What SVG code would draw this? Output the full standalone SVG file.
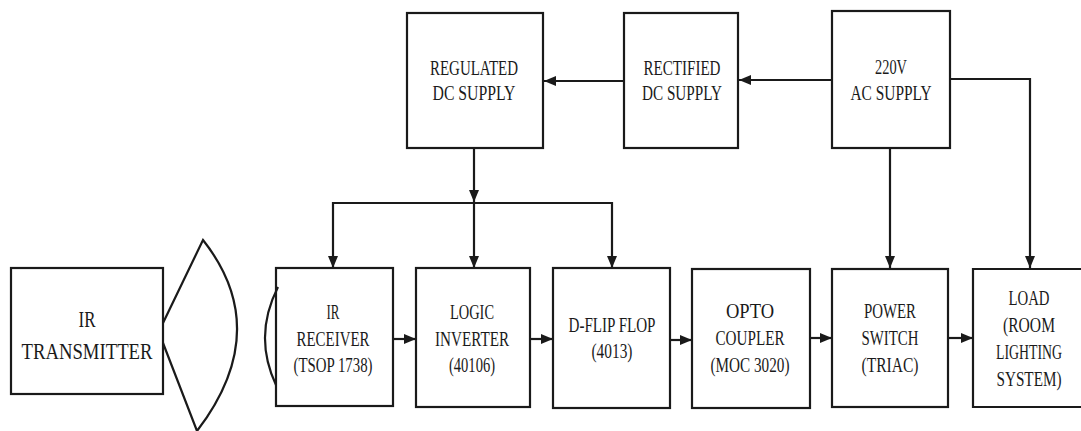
<svg xmlns="http://www.w3.org/2000/svg" width="1081" height="431" viewBox="0 0 1081 431">
<style>
.box{fill:none;stroke:#1a1a1a;stroke-width:2.2}
.ln{fill:none;stroke:#1a1a1a;stroke-width:2.2}
.t{font-family:"Liberation Serif",serif;font-size:20px;fill:#1a1a1a;text-anchor:middle}
.tb{font-family:"Liberation Serif",serif;font-size:24px;fill:#1a1a1a;text-anchor:middle}
</style>
<defs>
<marker id="ah" viewBox="0 0 12 10" refX="12" refY="5" markerWidth="12" markerHeight="10" markerUnits="userSpaceOnUse" orient="auto">
<path d="M0,0 L12,5 L0,10 Z" fill="#1a1a1a"/>
</marker>
</defs>
<rect width="1081" height="431" fill="#ffffff"/>

<g id="connectors">
<line class="ln" x1="624" y1="81" x2="544" y2="81" marker-end="url(#ah)"/>
<line class="ln" x1="832" y1="80" x2="739" y2="80" marker-end="url(#ah)"/>
<polyline class="ln" points="950,79 1030,79 1030,268" marker-end="url(#ah)"/>
<line class="ln" x1="890" y1="148" x2="890" y2="268" marker-end="url(#ah)"/>
<line class="ln" x1="474" y1="148" x2="474" y2="202" marker-end="url(#ah)"/>
<line class="ln" x1="333" y1="203" x2="613" y2="203"/>
<line class="ln" x1="333" y1="202" x2="333" y2="268" marker-end="url(#ah)"/>
<line class="ln" x1="474" y1="203" x2="474" y2="268" marker-end="url(#ah)"/>
<line class="ln" x1="612" y1="202" x2="612" y2="268" marker-end="url(#ah)"/>
<line class="ln" x1="393" y1="339" x2="416" y2="339" marker-end="url(#ah)"/>
<line class="ln" x1="530" y1="339" x2="553" y2="339" marker-end="url(#ah)"/>
<line class="ln" x1="670" y1="340" x2="692" y2="340" marker-end="url(#ah)"/>
<line class="ln" x1="810" y1="338" x2="832" y2="338" marker-end="url(#ah)"/>
<line class="ln" x1="948" y1="338" x2="973" y2="338" marker-end="url(#ah)"/>
</g>

<g id="ir_transmitter">
<rect class="box" x="11" y="268" width="152" height="126"/>
<text class="tb" x="87" y="327" textLength="17" lengthAdjust="spacingAndGlyphs">IR</text>
<text class="tb" x="87" y="359" textLength="131" lengthAdjust="spacingAndGlyphs">TRANSMITTER</text>
<path class="ln" d="M163,323 L203,240 Q274,330 197,431 L163,343"/>
</g>

<g id="ir_receiver">
<rect class="box" x="276" y="268" width="117" height="138"/>
<path class="ln" d="M278,287 Q253,336 276,385"/>
<text class="t" x="333" y="319" textLength="13" lengthAdjust="spacingAndGlyphs">IR</text>
<text class="t" x="333" y="346" textLength="73" lengthAdjust="spacingAndGlyphs">RECEIVER</text>
<text class="t" x="333" y="372" textLength="79" lengthAdjust="spacingAndGlyphs">(TSOP 1738)</text>
</g>

<g id="logic_inverter">
<rect class="box" x="416" y="268" width="114" height="139"/>
<text class="t" x="472" y="319" textLength="44" lengthAdjust="spacingAndGlyphs">LOGIC</text>
<text class="t" x="472" y="346" textLength="74" lengthAdjust="spacingAndGlyphs">INVERTER</text>
<text class="t" x="472" y="372" textLength="46" lengthAdjust="spacingAndGlyphs">(40106)</text>
</g>

<g id="d_flip_flop">
<rect class="box" x="553" y="268" width="117" height="140"/>
<text class="t" x="612" y="332" textLength="87" lengthAdjust="spacingAndGlyphs">D-FLIP FLOP</text>
<text class="t" x="612" y="358" textLength="41" lengthAdjust="spacingAndGlyphs">(4013)</text>
</g>

<g id="opto_coupler">
<rect class="box" x="692" y="269" width="118" height="139"/>
<text class="t" x="750" y="318" textLength="48" lengthAdjust="spacingAndGlyphs">OPTO</text>
<text class="t" x="750" y="345" textLength="69" lengthAdjust="spacingAndGlyphs">COUPLER</text>
<text class="t" x="750" y="372" textLength="79" lengthAdjust="spacingAndGlyphs">(MOC 3020)</text>
</g>

<g id="power_switch">
<rect class="box" x="832" y="269" width="116" height="138"/>
<text class="t" x="890" y="318" textLength="52" lengthAdjust="spacingAndGlyphs">POWER</text>
<text class="t" x="890" y="345" textLength="57" lengthAdjust="spacingAndGlyphs">SWITCH</text>
<text class="t" x="890" y="372" textLength="57" lengthAdjust="spacingAndGlyphs">(TRIAC)</text>
</g>

<g id="load">
<path class="box" d="M1081,269 L973,269 L973,407 L1081,407"/>
<text class="t" x="1029" y="305" textLength="41" lengthAdjust="spacingAndGlyphs">LOAD</text>
<text class="t" x="1029" y="332" textLength="52" lengthAdjust="spacingAndGlyphs">(ROOM</text>
<text class="t" x="1029" y="359" textLength="66" lengthAdjust="spacingAndGlyphs">LIGHTING</text>
<text class="t" x="1029" y="386" textLength="65" lengthAdjust="spacingAndGlyphs">SYSTEM)</text>
</g>

<g id="regulated_dc">
<rect class="box" x="407" y="13" width="136" height="135"/>
<text class="t" x="474" y="75" textLength="88" lengthAdjust="spacingAndGlyphs">REGULATED</text>
<text class="t" x="474" y="100" textLength="83" lengthAdjust="spacingAndGlyphs">DC SUPPLY</text>
</g>

<g id="rectified_dc">
<rect class="box" x="624" y="13" width="114" height="135"/>
<text class="t" x="682" y="75" textLength="77" lengthAdjust="spacingAndGlyphs">RECTIFIED</text>
<text class="t" x="682" y="100" textLength="80" lengthAdjust="spacingAndGlyphs">DC SUPPLY</text>
</g>

<g id="ac_supply">
<rect class="box" x="832" y="11" width="118" height="137"/>
<text class="t" x="891" y="74" textLength="32" lengthAdjust="spacingAndGlyphs">220V</text>
<text class="t" x="891" y="100" textLength="81" lengthAdjust="spacingAndGlyphs">AC SUPPLY</text>
</g>
</svg>
